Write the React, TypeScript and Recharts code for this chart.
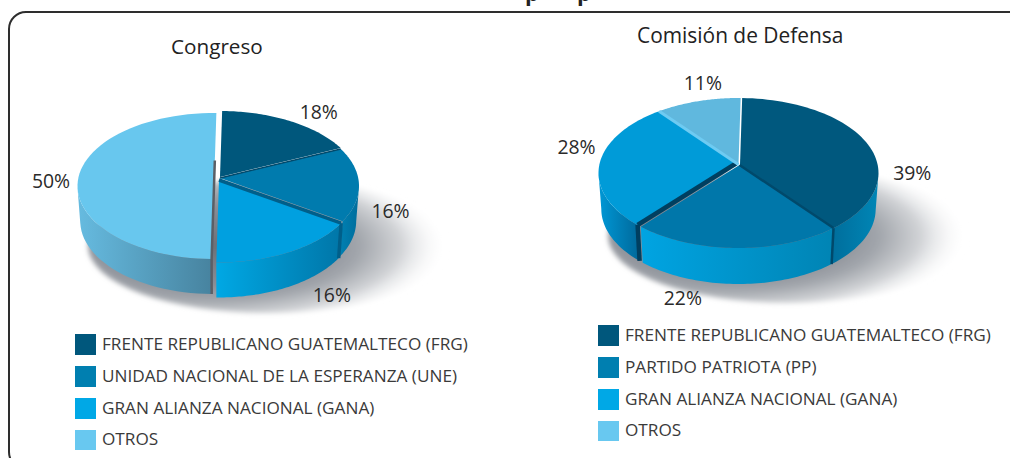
import { PieChart, Pie, Legend } from "recharts";

const FONT = "'Open Sans', sans-serif";

const congresoNames = [
  "FRENTE REPUBLICANO GUATEMALTECO (FRG)",
  "UNIDAD NACIONAL DE LA ESPERANZA (UNE)",
  "GRAN ALIANZA NACIONAL (GANA)",
  "OTROS",
];
const congresoValues = [18, 16, 16, 50];
const congresoTop = ["#00577c", "#007bae", "#00a0e0", "#68c7ee"];
const congresoWall = [
  ["#00577c", "#00577c"],
  ["#0080b2", "#006d9c"],
  ["#00a8e4", "#0076a8"],
  ["#66bbe0", "#47839f"],
];
const congresoSeam = [
  { color: "#ffffff", width: 0, reach: 0 },
  { color: "#00496b", width: 1.5, reach: 0 },
  { color: "#005f8a", width: 3.5, reach: 0 },
  { color: "#5a5f66", width: 2.5, reach: 0.35 },
];
const congresoTweak = [
  { dx: 1, dy: 0, dr: 0, dry: 0, ax: 0, ay: -9 },
  { dx: 0, dy: 0, dr: 0, dry: 0, ax: 1, ay: -8 },
  { dx: -1, dy: 1.5, dr: 0, dry: 0, ax: 1, ay: -7.5 },
  { dx: -5, dy: 0, dr: -3.5, dry: -2, ax: 0, ay: 0 },
];
const congresoNudge = [
  [15, -6],
  [18, 18],
  [41, 36],
  [-14, -4],
];

const defensaNames = [
  "FRENTE REPUBLICANO GUATEMALTECO (FRG)",
  "PARTIDO PATRIOTA (PP)",
  "GRAN ALIANZA NACIONAL (GANA)",
  "OTROS",
];
const defensaValues = [39, 22, 28, 11];
const defensaTop = ["#00587e", "#0077aa", "#009bd8", "#60b8de"];
const defensaWall = [
  ["#006e9c", "#0086b6"],
  ["#00a4e2", "#0084b4"],
  ["#0098d6", "#00689a"],
  ["#60b8de", "#60b8de"],
];
const defensaSeam = [
  { color: "#ffffff", width: 0, reach: 0 },
  { color: "#00496b", width: 2.5, reach: 0 },
  { color: "#003f60", width: 4.5, reach: 0 },
  { color: "#6ecbf2", width: 3, reach: 0 },
];
const defensaTweak = [
  { dx: 0, dy: 0, dr: 0, dry: 0, ax: 1.5, ay: -8 },
  { dx: 0, dy: 0, dr: 0, dry: 0, ax: 1, ay: -8 },
  { dx: 0, dy: 0, dr: 0, dry: 0, ax: -2.5, ay: -9.5 },
  { dx: 0, dy: 0, dr: 0, dry: 0, ax: 0, ay: -8.5 },
];
const defensaNudge = [
  [28, 26],
  [-53, 42],
  [-8, -25],
  [14, -12],
];

const legendSwatches = ["#00577c", "#007fb0", "#00a8e6", "#68c8f0"];
const SQUASH = 75 / 140;

// ray from the apex to the ellipse rim, gives the slight perspective of the original
function rimPoint(recAngle: number, g: any) {
  const a = (recAngle * Math.PI) / 180;
  const dirX = Math.cos(a);
  const dirY = -Math.sin(a);
  const ox = g.ax / g.rx;
  const oy = g.ay / g.ry;
  const b = ox * dirX + oy * dirY;
  const c = ox * ox + oy * oy - 1;
  const t = -b + Math.sqrt(b * b - c);
  return { x: g.cx + (ox + t * dirX) * g.rx, y: g.cy + (oy + t * dirY) * g.ry };
}

function sliceGeometry(props: any, tweak: any) {
  const rx = props.outerRadius + tweak.dr;
  return {
    cx: props.cx + tweak.dx,
    cy: props.cy + tweak.dy,
    rx,
    ry: props.outerRadius * SQUASH + tweak.dry,
    ax: tweak.ax,
    ay: tweak.ay,
  };
}

function rimSamples(props: any, g: any) {
  const pts = [];
  const steps = 60;
  for (let i = 0; i <= steps; i++) {
    pts.push(rimPoint(props.startAngle + ((props.endAngle - props.startAngle) * i) / steps, g));
  }
  return pts;
}

const toPath = (pts: { x: number; y: number }[]) =>
  pts.map((p, i) => `${i ? "L" : "M"}${p.x.toFixed(2)} ${p.y.toFixed(2)}`).join("") + "Z";

function makeTop(tweaks: any[], seams: any[]) {
  return function TopSlice(props: any) {
    const slot = props.payload?.slot ?? props.slot;
    const g = sliceGeometry(props, tweaks[slot]);
    const apex = { x: g.cx + g.ax, y: g.cy + g.ay };
    const seam = seams[slot];
    const start = rimPoint(props.startAngle, g);
    const end = rimPoint(props.endAngle, g);
    const from = {
      x: apex.x + (end.x - apex.x) * seam.reach,
      y: apex.y + (end.y - apex.y) * seam.reach,
    };
    return (
      <g>
        <path d={toPath([apex, ...rimSamples(props, g)])} fill={props.fill} />
        {seam.width > 0 && (
          <path d={`M${from.x} ${from.y}L${apex.x} ${apex.y}L${start.x} ${start.y}`} fill="none" stroke={seam.color} strokeWidth={seam.width} />
        )}
      </g>
    );
  };
}

function makeWall(prefix: string, tweaks: any[], seams: any[], depth: number) {
  return function WallSlice(props: any) {
    const slot = props.payload?.slot ?? props.slot;
    const g = sliceGeometry(props, tweaks[slot]);
    const front = rimSamples(props, g).filter((p) => p.y >= g.cy);
    if (front.length < 2) return <g />;
    const lower = front.map((p) => ({ x: g.cx + (p.x - g.cx) * 0.98, y: p.y + depth }));
    const seam = seams[slot];
    const start = rimPoint(props.startAngle, g);
    return (
      <g>
        <path d={toPath([...front, ...lower.reverse()])} fill={`url(#${prefix}${slot})`} />
        {seam.width > 0 && start.y >= g.cy && (
          <line x1={start.x} y1={start.y} x2={g.cx + (start.x - g.cx) * 0.98} y2={start.y + depth} stroke={seam.color} strokeWidth={seam.width} />
        )}
      </g>
    );
  };
}

function makeLabel(nudges: number[][], values: number[]) {
  return function PctLabel(props: any) {
    const a = (props.midAngle * Math.PI) / 180;
    const i = props.index;
    const x = props.cx + props.outerRadius * 1.1 * Math.cos(a) + nudges[i][0];
    const y = props.cy - props.outerRadius * SQUASH * 1.1 * Math.sin(a) + nudges[i][1];
    return (
      <text x={x} y={y} textAnchor="middle" dominantBaseline="central" fontFamily={FONT} fontSize={19.4} fill="#2a2a2a">
        {values[i]}%
      </text>
    );
  };
}

function SwatchLegend({ payload }: any) {
  const items = (payload || []).filter((item: any) => item.type !== "none");
  return (
    <div style={{ fontFamily: FONT }}>
      {items.map((item: any, i: number) => (
        <div key={i} style={{ display: "flex", alignItems: "center", height: 21, marginBottom: i === 2 ? 10 : 11 }}>
          <span style={{ width: 21, height: i === 3 ? 20 : 21, background: legendSwatches[i], marginRight: 6, flex: "none" }} />
          <span style={{ fontSize: 17.2, color: "#3a3a3a", whiteSpace: "nowrap", position: "relative", top: -1 }}>{item.value}</span>
        </div>
      ))}
    </div>
  );
}

function Pie3D({ id, names, values, top, walls, seams, tweaks, nudges, cx, cy, r, depth, start, shadow, legendPos }: any) {
  const rows = names.map((name: string, i: number) => ({ name, value: values[i], slot: i, fill: top[i] }));
  return (
    <PieChart width={505} height={458} margin={{ top: 0, right: 0, bottom: 0, left: 0 }}>
      <defs>
        {walls.map((w: string[], i: number) => (
          <linearGradient key={i} id={`${id}${i}`} x1="0" y1="0" x2="1" y2="0">
            <stop offset="0%" stopColor={w[0]} />
            <stop offset="100%" stopColor={w[1]} />
          </linearGradient>
        ))}
        <radialGradient id={`${id}shadow`} cx="35%" cy="50%" r="65%">
          <stop offset="0%" stopColor="#6c7078" />
          <stop offset="45%" stopColor="#8a8e96" />
          <stop offset="62%" stopColor="#a2a6ac" />
          <stop offset="80%" stopColor="#d2d4d7" />
          <stop offset="100%" stopColor="#ffffff" stopOpacity={0} />
        </radialGradient>
        <filter id={`${id}soft`} x="-20%" y="-20%" width="140%" height="140%">
          <feGaussianBlur stdDeviation="2.5" />
        </filter>
      </defs>
      <ellipse cx={shadow.cx} cy={shadow.cy} rx={shadow.rx} ry={shadow.ry} fill={`url(#${id}shadow)`} filter={`url(#${id}soft)`} />
      <Pie
        data={rows}
        dataKey="value"
        nameKey="name"
        cx={cx}
        cy={cy}
        outerRadius={r}
        startAngle={start}
        endAngle={start - 360}
        stroke="none"
        legendType="none"
        isAnimationActive={false}
        shape={makeWall(id, tweaks, seams, depth)}
      />
      <Pie
        data={rows}
        dataKey="value"
        nameKey="name"
        cx={cx}
        cy={cy}
        outerRadius={r}
        startAngle={start}
        endAngle={start - 360}
        stroke="none"
        labelLine={false}
        label={makeLabel(nudges, values)}
        isAnimationActive={false}
        shape={makeTop(tweaks, seams)}
      />
      <Legend
        content={<SwatchLegend />}
        itemSorter={null}
        wrapperStyle={{ position: "absolute", left: legendPos.left, top: legendPos.top, bottom: "auto", width: 420 }}
      />
    </PieChart>
  );
}

export default function App() {
  return (
    <div style={{ position: "absolute", left: 0, top: 0, width: 1010, height: 458, overflow: "hidden", background: "#fff" }}>
      <div style={{ position: "absolute", left: 8, top: 11, width: 1100, height: 455, border: "2px solid #2e2e2e", borderRadius: 18 }} />
      <div style={{ position: "absolute", left: 525, top: -23, fontFamily: FONT, fontWeight: 700, fontSize: 22, lineHeight: "30px", color: "#222" }}>p</div>
      <div style={{ position: "absolute", left: 577, top: -23, fontFamily: FONT, fontWeight: 700, fontSize: 22, lineHeight: "30px", color: "#222" }}>p</div>
      <div style={{ position: "absolute", left: 0, top: 0 }}>
        <Pie3D
          id="cg"
          names={congresoNames}
          values={congresoValues}
          top={congresoTop}
          walls={congresoWall}
          seams={congresoSeam}
          tweaks={congresoTweak}
          nudges={congresoNudge}
          cx={219}
          cy={186}
          r={140}
          depth={35}
          start={89}
          shadow={{ cx: 268, cy: 246, rx: 180, ry: 67 }}
          legendPos={{ left: 75, top: 334 }}
        />
      </div>
      <div style={{ position: "absolute", left: 505, top: 0 }}>
        <Pie3D
          id="df"
          names={defensaNames}
          values={defensaValues}
          top={defensaTop}
          walls={defensaWall}
          seams={defensaSeam}
          tweaks={defensaTweak}
          nudges={defensaNudge}
          cx={233.5}
          cy={173}
          r={140}
          depth={36}
          start={89}
          shadow={{ cx: 283, cy: 236, rx: 180, ry: 67 }}
          legendPos={{ left: 93, top: 325 }}
        />
      </div>
      <div style={{ position: "absolute", left: 171, top: 32, fontFamily: FONT, fontSize: 20.7, lineHeight: "28px", color: "#222" }}>Congreso</div>
      <div style={{ position: "absolute", left: 637, top: 21, fontFamily: FONT, fontSize: 20.9, lineHeight: "28px", color: "#222" }}>Comisión de Defensa</div>
    </div>
  );
}
